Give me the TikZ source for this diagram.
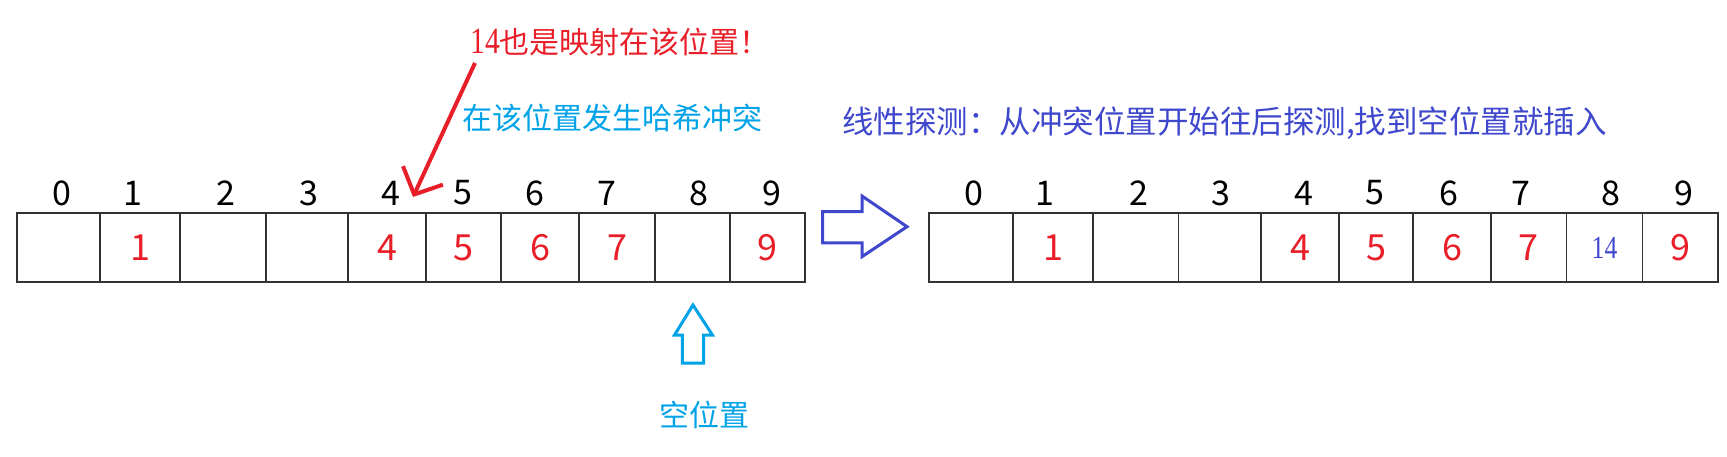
\documentclass[tikz,border=0pt]{standalone}
\usepackage{fontspec}
\usepackage{tikz}
\usetikzlibrary{arrows.meta}
\newfontfamily\cjk{Noto Sans CJK SC}
\newfontfamily\serifnum{Liberation Serif}
\definecolor{hitred}{RGB}{232,30,40}
\definecolor{skyblue}{RGB}{0,162,232}
\definecolor{probe}{RGB}{63,72,204}
\definecolor{gridline}{RGB}{50,50,50}

\begin{document}
\begin{tikzpicture}[x=1pt, y=-1pt, every node/.style={inner sep=0pt},
  cell/.style={draw=gridline, line width=1.5pt, minimum height=69pt, text=hitred,
    font=\cjk\fontsize{36}{40}\selectfont},
  idx/.style={font=\cjk\fontsize{34}{40}\selectfont},
  note/.style={anchor=west, font=\cjk\fontsize{30}{36}\selectfont}]
\useasboundingbox (0,0) rectangle (1727,457);
% ---- before: 14 hashes onto slot 4
\node[cell, minimum width=83pt] (a0) at (58.5,247.5) {};   \node[idx] (i0) at (61.5,193) {0};
\node[cell, minimum width=80pt] (a1) at (140,247.5) {1};   \node[idx] (i1) at (133,193) {1};
\node[cell, minimum width=86pt] (a2) at (223,247.5) {};    \node[idx] (i2) at (226,193) {2};
\node[cell, minimum width=82pt] (a3) at (307,247.5) {};    \node[idx] (i3) at (308.5,193) {3};
\node[cell, minimum width=78pt] (a4) at (387,247.5) {4};   \node[idx] (i4) at (390.5,193) {4};
\node[cell, minimum width=75pt] (a5) at (463.5,247.5) {5}; \node[idx] (i5) at (462.5,193) {5};
\node[cell, minimum width=78pt] (a6) at (540,247.5) {6};   \node[idx] (i6) at (535,193) {6};
\node[cell, minimum width=76pt] (a7) at (617,247.5) {7};   \node[idx] (i7) at (607,193) {7};
\node[cell, minimum width=75pt] (a8) at (692.5,247.5) {};  \node[idx] (i8) at (699,193) {8};
\node[cell, minimum width=75pt] (a9) at (767.5,247.5) {9}; \node[idx] (i9) at (771.5,193) {9};
\node[note, text=hitred] (dup) at (470,42)
  {\scalebox{0.8}[1]{\serifnum\fontsize{37}{40}\selectfont 14}也是映射在该位置！};
\node[note, text=skyblue] (clash) at (462,118) {在该位置发生哈希冲突};
\coordinate (dupfoot) at (475,63);
\coordinate (hit) at (413,197);
\draw[hitred, line width=4pt, -{Straight Barb[length=21pt,width=44pt]}] (dupfoot) -- (hit);
% ---- free slot marker
\draw[skyblue, line width=3pt] (682.4,363) -- (682.4,335) -- (674.5,335) -- (693,305)
  -- (712.4,335) -- (703.5,335) -- (703.5,363) -- cycle;
\node[text=skyblue, font=\cjk\fontsize{30}{36}\selectfont] (empty) at (704,415) {空位置};
% ---- after: linear probing
\draw[probe, line width=3pt] (822.6,211.7) -- (862,211.7) -- (862,196) -- (907,226.7)
  -- (862,256.7) -- (862,243) -- (822.6,243) -- cycle;
\node[note, text=probe, font=\cjk\fontsize{31.5}{38}\selectfont] (rule) at (842,123)
  {线性探测：从冲突位置开始往后探测,找到空位置就插入};
\node[cell, minimum width=84pt] (b0) at (971,247.5) {};      \node[idx] (j0) at (973.5,193) {0};
\node[cell, minimum width=80pt] (b1) at (1053,247.5) {1};    \node[idx] (j1) at (1045,193) {1};
\node[cell, minimum width=85.5pt] (b2) at (1135.75,247.5) {}; \node[idx] (j2) at (1138.5,193) {2};
\node[cell, minimum width=82.5pt] (b3) at (1219.75,247.5) {}; \node[idx] (j3) at (1220.5,193) {3};
\node[cell, minimum width=78pt] (b4) at (1300,247.5) {4};    \node[idx] (j4) at (1304,193) {4};
\node[cell, minimum width=74pt] (b5) at (1376,247.5) {5};    \node[idx] (j5) at (1374.5,193) {5};
\node[cell, minimum width=78pt] (b6) at (1452,247.5) {6};    \node[idx] (j6) at (1449,193) {6};
\node[cell, minimum width=75.5pt] (b7) at (1528.75,247.5) {7}; \node[idx] (j7) at (1520.5,193) {7};
\node[cell, minimum width=76pt, text=probe, font=\serifnum\fontsize{32}{34}\selectfont]
  (b8) at (1604.5,247.5) {\scalebox{0.8}[1]{14}};             \node[idx] (j8) at (1611,193) {8};
\node[cell, minimum width=75.5pt] (b9) at (1680.25,247.5) {9}; \node[idx] (j9) at (1684,193) {9};
\end{tikzpicture}
\end{document}
